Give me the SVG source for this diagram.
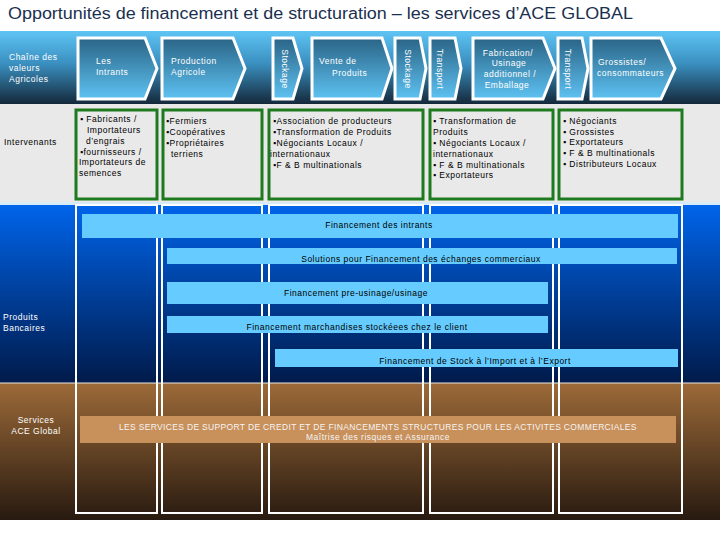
<svg xmlns="http://www.w3.org/2000/svg" width="720" height="540" viewBox="0 0 720 540">
<defs>
<linearGradient id="gHead" x1="0" y1="0" x2="0" y2="1">
<stop offset="0" stop-color="#5ec4f4"/><stop offset="0.45" stop-color="#3a8fbf"/><stop offset="1" stop-color="#14283a"/>
</linearGradient>
<linearGradient id="gChev" x1="0" y1="0" x2="0" y2="1">
<stop offset="0" stop-color="#2a6486"/><stop offset="1" stop-color="#5ec2f2"/>
</linearGradient>
<linearGradient id="gBlue" x1="0" y1="0" x2="0" y2="1">
<stop offset="0" stop-color="#0064ea"/><stop offset="1" stop-color="#001a4a"/>
</linearGradient>
<linearGradient id="gBrown" x1="0" y1="0" x2="0" y2="1">
<stop offset="0" stop-color="#9c6a38"/><stop offset="1" stop-color="#281a10"/>
</linearGradient>
<style>
text{font-family:"Liberation Sans",Arial,sans-serif;font-size:8.5px;letter-spacing:0.5px}
.w{fill:#ffffff}
.k{fill:#000000}
.chev{fill:url(#gChev);stroke:#ffffff;stroke-width:3}
.box{fill:none;stroke:#1e7a1e;stroke-width:3}
.col{fill:none;stroke:#ffffff;stroke-width:2}
.bar{fill:#66ccff}
.m{text-anchor:middle}
.v{text-anchor:middle;dominant-baseline:central}
</style>
</defs>
<rect width="720" height="540" fill="#ffffff"/>
<text x="8" y="19" textLength="625" lengthAdjust="spacingAndGlyphs" style="font-size:16px;letter-spacing:0;fill:#1a3050">Opportunités de financement et de structuration – les services d’ACE GLOBAL</text>
<rect x="0" y="31" width="720" height="73" fill="url(#gHead)"/>
<rect x="0" y="104" width="720" height="98" fill="#e9e9e9"/>
<rect x="0" y="202" width="720" height="3" fill="#d6ebf7"/>
<rect x="0" y="205" width="720" height="178" fill="url(#gBlue)"/>
<rect x="0" y="383" width="720" height="137" fill="url(#gBrown)"/>
<line x1="0" y1="383" x2="720" y2="383" stroke="#e8e8e8" stroke-width="1"/>
<g id="labels">
<text class="w" x="9" y="60">Chaîne des</text>
<text class="w" x="9" y="71">valeurs</text>
<text class="w" x="9" y="82">Agricoles</text>
<text class="k" x="4" y="145">Intervenants</text>
<text class="w" x="3" y="320">Produits</text>
<text class="w" x="3" y="331">Bancaires</text>
<text class="w m" x="36" y="423">Services</text>
<text class="w m" x="36" y="434">ACE  Global</text>
</g>
<g id="columns">
<rect class="col" x="76" y="205" width="81" height="308"/>
<rect class="col" x="162" y="205" width="100" height="308"/>
<rect class="col" x="269" y="205" width="154" height="308"/>
<rect class="col" x="430" y="205" width="123" height="308"/>
<rect class="col" x="559" y="205" width="123" height="308"/>
</g>
<g id="chain">
<g id="c-intrants"><polygon class="chev" points="78,38 145,38 157,68.5 145,99 78,99"/><text class="w" x="96" y="64">Les</text><text class="w" x="96" y="75">Intrants</text></g>
<g id="c-production"><polygon class="chev" points="162,38 233,38 245,68.5 233,99 162,99"/><text class="w" x="171" y="64">Production</text><text class="w" x="171" y="75">Agricole</text></g>
<g id="c-stockage1"><polygon class="chev" points="273,38 293,38 302,68.5 293,99 273,99"/><text class="w v" transform="translate(285,69) rotate(90)">Stockage</text></g>
<g id="c-vente"><polygon class="chev" points="312,38 382,38 392,68.5 382,99 312,99"/><text class="w" x="319" y="64">Vente de</text><text class="w" x="332" y="76">Produits</text></g>
<g id="c-stockage2"><polygon class="chev" points="395,38 420,38 426,68.5 420,99 395,99"/><text class="w v" transform="translate(408,69) rotate(90)">Stockage</text></g>
<g id="c-transport1"><polygon class="chev" points="430,38 455,38 461,68.5 455,99 430,99"/><text class="w v" transform="translate(440,69) rotate(90)">Transport</text></g>
<g id="c-fabrication"><polygon class="chev" points="473,38 543,38 555,68.5 543,99 473,99"/><text class="w m" x="508" y="56">Fabrication/</text><text class="w m" x="509" y="66">Usinage</text><text class="w m" x="510" y="77">additionnel /</text><text class="w m" x="507" y="88">Emballage</text></g>
<g id="c-transport2"><polygon class="chev" points="558,38 582,38 588,68.5 582,99 558,99"/><text class="w v" transform="translate(568,69) rotate(90)">Transport</text></g>
<g id="c-grossistes"><polygon class="chev" points="591,38 661,38 675,68.5 661,99 591,99"/><text class="w" x="598" y="65">Grossistes/</text><text class="w" x="597" y="76">consommateurs</text></g>
</g>
<g id="intervenants">
<g id="i-intrants"><rect class="box" x="76" y="110" width="81" height="89"/>
<text class="k" x="80" y="122">▪ Fabricants /</text><text class="k" x="87" y="133">Importateurs</text><text class="k" x="86" y="144">d’engrais</text><text class="k" x="80" y="155">▪fournisseurs /</text><text class="k" x="79" y="165">Importateurs de</text><text class="k" x="79" y="176">semences</text></g>
<g id="i-production"><rect class="box" x="163" y="110" width="99" height="89"/>
<text class="k" x="166" y="124">▪Fermiers</text><text class="k" x="166" y="135">▪Coopératives</text><text class="k" x="166" y="146">▪Propriétaires</text><text class="k" x="171" y="157">terriens</text></g>
<g id="i-vente"><rect class="box" x="269" y="110" width="154" height="89"/>
<text class="k" x="273" y="124">▪Association de producteurs</text><text class="k" x="273" y="135">▪Transformation de Produits</text><text class="k" x="273" y="146">▪Négociants  Locaux /</text><text class="k" x="270" y="157">internationaux</text><text class="k" x="273" y="168">▪F &amp; B multinationals</text></g>
<g id="i-fabrication"><rect class="box" x="430" y="110" width="123" height="89"/>
<text class="k" x="433" y="124">▪ Transformation de</text><text class="k" x="433" y="135">Produits</text><text class="k" x="433" y="146">▪ Négociants  Locaux /</text><text class="k" x="433" y="157">internationaux</text><text class="k" x="433" y="168">▪ F &amp; B multinationals</text><text class="k" x="433" y="178">▪ Exportateurs</text></g>
<g id="i-grossistes"><rect class="box" x="559" y="110" width="123" height="89"/>
<text class="k" x="563" y="124">▪ Négociants</text><text class="k" x="563" y="135">▪ Grossistes</text><text class="k" x="563" y="145">▪ Exportateurs</text><text class="k" x="563" y="156">▪ F &amp; B multinationals</text><text class="k" x="563" y="167">▪ Distributeurs Locaux</text></g>
</g>
<g id="products">
<g id="p1"><rect class="bar" x="82" y="214" width="596" height="24"/><text class="k m" x="379" y="228">Financement des intrants</text></g>
<g id="p2"><rect class="bar" x="167" y="248" width="510" height="16"/><text class="k m" x="421" y="262">Solutions pour  Financement des échanges commerciaux</text></g>
<g id="p3"><rect class="bar" x="167" y="282" width="381" height="22"/><text class="k m" x="356" y="296">Financement pre-usinage/usinage</text></g>
<g id="p4"><rect class="bar" x="167" y="316" width="381" height="17"/><text class="k m" x="357" y="330">Financement  marchandises stockéees  chez le client</text></g>
<g id="p5"><rect class="bar" x="275" y="349" width="403" height="18"/><text class="k m" x="475" y="364">Financement de Stock à l’Import et à l’Export</text></g>
</g>
<g id="services">
<rect x="80" y="416" width="596" height="27" fill="#c8905a"/>
<text class="m" x="378" y="430" textLength="518" lengthAdjust="spacing" style="fill:#f4f4f4">LES SERVICES DE SUPPORT DE CREDIT ET DE FINANCEMENTS STRUCTURES POUR LES ACTIVITES COMMERCIALES</text>
<text class="m" x="378" y="440" style="fill:#f4f4f4">Maîtrise des risques  et Assurance</text>
</g>
<g id="connectors"/>
</svg>
